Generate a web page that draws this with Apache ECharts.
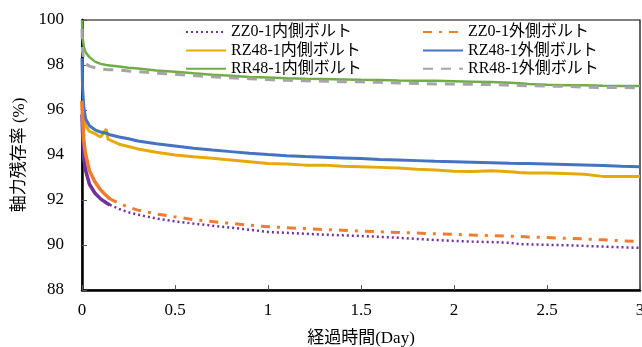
<!DOCTYPE html>
<html><head><meta charset="utf-8">
<script src="https://cdn.jsdelivr.net/npm/echarts@6/dist/echarts.min.js"></script>
<style>html,body{margin:0;padding:0;background:#fff}#c{width:642px;height:347px}</style>
</head><body><div id="c"></div>
<script>
const days = [0,0.003,0.01,0.02,0.04,0.07,0.1,0.13,0.14,0.15,0.2,0.25,0.3,0.4,0.5,0.6,0.7,0.8,0.9,1.0,1.1,1.2,1.3,1.4,1.5,1.6,1.7,1.8,1.9,2.0,2.1,2.2,2.3,2.35,2.4,2.5,2.6,2.7,2.8,2.9,3.0];
const zz0Inner = [95.8,95.0,93.8,93.3,92.7,92.3,92.05,91.88,91.83,91.78,91.6,91.45,91.35,91.18,91.05,90.95,90.86,90.77,90.68,90.58,90.54,90.5,90.46,90.43,90.4,90.36,90.32,90.27,90.22,90.18,90.15,90.13,90.1,90.04,90.03,90.01,89.99,89.96,89.93,89.9,89.87];
const zz0Outer = [96.4,95.6,94.6,94.0,93.3,92.8,92.45,92.2,92.12,92.05,91.85,91.68,91.55,91.38,91.25,91.13,91.04,90.96,90.88,90.81,90.77,90.73,90.69,90.66,90.62,90.59,90.56,90.53,90.5,90.47,90.44,90.42,90.39,90.38,90.36,90.33,90.3,90.27,90.23,90.19,90.15];
const rz48Inner = [96.3,96.4,95.6,95.3,95.05,94.95,94.8,95.15,94.7,94.62,94.48,94.38,94.27,94.12,94.0,93.92,93.86,93.78,93.7,93.62,93.6,93.55,93.55,93.5,93.48,93.45,93.42,93.37,93.33,93.28,93.27,93.3,93.26,93.22,93.2,93.2,93.18,93.14,93.05,93.05,93.05];
const rz48Outer = [98.3,97.0,96.1,95.6,95.3,95.12,95.02,94.97,94.95,94.9,94.8,94.72,94.62,94.5,94.4,94.3,94.22,94.15,94.08,94.02,93.97,93.93,93.9,93.87,93.84,93.8,93.78,93.75,93.72,93.7,93.68,93.66,93.63,93.62,93.62,93.6,93.58,93.56,93.53,93.5,93.48];
const rr48Inner = [100,99.2,98.8,98.55,98.35,98.15,98.05,98.0,97.99,97.98,97.93,97.88,97.84,97.76,97.7,97.63,97.57,97.52,97.47,97.44,97.41,97.39,97.38,97.36,97.34,97.33,97.31,97.3,97.3,97.28,97.26,97.24,97.21,97.19,97.16,97.12,97.1,97.1,97.08,97.07,97.07];
const rr48Outer = [99.6,98.6,98.2,98.05,97.95,97.88,97.83,97.8,97.79,97.79,97.78,97.73,97.7,97.64,97.59,97.53,97.48,97.43,97.39,97.35,97.32,97.3,97.28,97.26,97.25,97.23,97.2,97.18,97.16,97.15,97.14,97.13,97.1,97.09,97.08,97.06,97.05,97.02,97.0,97.0,96.98];
const denseEnd = 9; // index of t=0.15 where dense sampling ends
const names = ['ZZ0-1内側ボルト','ZZ0-1外側ボルト','RZ48-1内側ボルト','RZ48-1外側ボルト','RR48-1内側ボルト','RR48-1外側ボルト'];
const xTicks = ['0','0.5','1','1.5','2','2.5','3'];

const FONT = "'Liberation Serif','Noto Sans CJK JP',serif";
const pair = arr => days.map((d,i)=>[d,arr[i]]);
const denseOf = arr => days.slice(0,denseEnd+1).map((d,i)=>[d,arr[i]]);

const styles = [
  {color:'#7030A0', width:2.5, type:[2,3]},
  {color:'#ED7D31', width:3, type:[9,7,3,7]},
  {color:'#E5AA0A', width:3, type:'solid'},
  {color:'#4472C4', width:3, type:'solid'},
  {color:'#70AD47', width:2.5, type:'solid'},
  {color:'#A5A5A5', width:3, type:[10,8]}
];
const vals = [zz0Inner, zz0Outer, rz48Inner, rz48Outer, rr48Inner, rr48Outer];

const series = [];
vals.forEach((v,i)=>{
  series.push({
    name:names[i], type:'line', data:pair(v), showSymbol:false, symbol:'none', legendIcon:'none',
    smooth:false, animation:false,
    lineStyle:{color:styles[i].color, width:styles[i].width, type:styles[i].type},
    itemStyle:{color:styles[i].color}
  });
});
// dense early measurements appear as thick solid segments
[0,1].forEach(i=>{
  series.push({
    type:'line', data:denseOf(vals[i]), showSymbol:false, symbol:'none', animation:false,
    lineStyle:{color:styles[i].color, width:3.5, type:'solid'}, silent:true
  });
});

const legendCommon = {
  orient:'vertical', itemWidth:40, itemHeight:14, itemGap:2.4, padding:0,
  itemStyle:{opacity:0},
  textStyle:{fontFamily:FONT, fontSize:16, color:'#000', lineHeight:16},
  selectedMode:false
};

const chart = echarts.init(document.getElementById('c'), null, {renderer:'canvas'});
chart.setOption({
  animation:false,
  backgroundColor:'#fff',
  grid:{left:82, right:2, top:20, bottom:57, show:true, borderColor:'#000', borderWidth:1.2,
        containLabel:false, outerBoundsMode:'none'},
  legend:[
    Object.assign({left:185, top:24, data:[names[0],names[2],names[4]]}, legendCommon),
    Object.assign({left:422, top:24, data:[names[1],names[3],names[5]]}, legendCommon)
  ],
  xAxis:{
    type:'value', min:0, max:3, interval:0.5,
    name:'経過時間(Day)', nameLocation:'middle', nameGap:40,
    nameTextStyle:{fontFamily:FONT, fontSize:17, color:'#000'},
    axisLine:{show:true, onZero:false, lineStyle:{color:'#000', width:2.5}},
    axisTick:{show:true, inside:true, length:5, lineStyle:{color:'#555', width:1}},
    splitLine:{show:false},
    axisLabel:{fontFamily:FONT, fontSize:17, color:'#000', margin:12,
      formatter:(v)=>{const k=Math.round(v/0.5); return xTicks[k]!==undefined?xTicks[k]:String(v);}}
  },
  yAxis:{
    type:'value', min:88, max:100, interval:2,
    name:'軸力残存率 (%)', nameLocation:'middle', nameGap:52, nameRotate:90,
    nameTextStyle:{fontFamily:FONT, fontSize:17, color:'#000'},
    axisLine:{show:true, onZero:false, lineStyle:{color:'#000', width:2.5}},
    axisTick:{show:true, inside:true, length:5, lineStyle:{color:'#555', width:1}},
    splitLine:{show:false},
    axisLabel:{fontFamily:FONT, fontSize:17, color:'#000', margin:18}
  },
  series:series
});
</script></body></html>
